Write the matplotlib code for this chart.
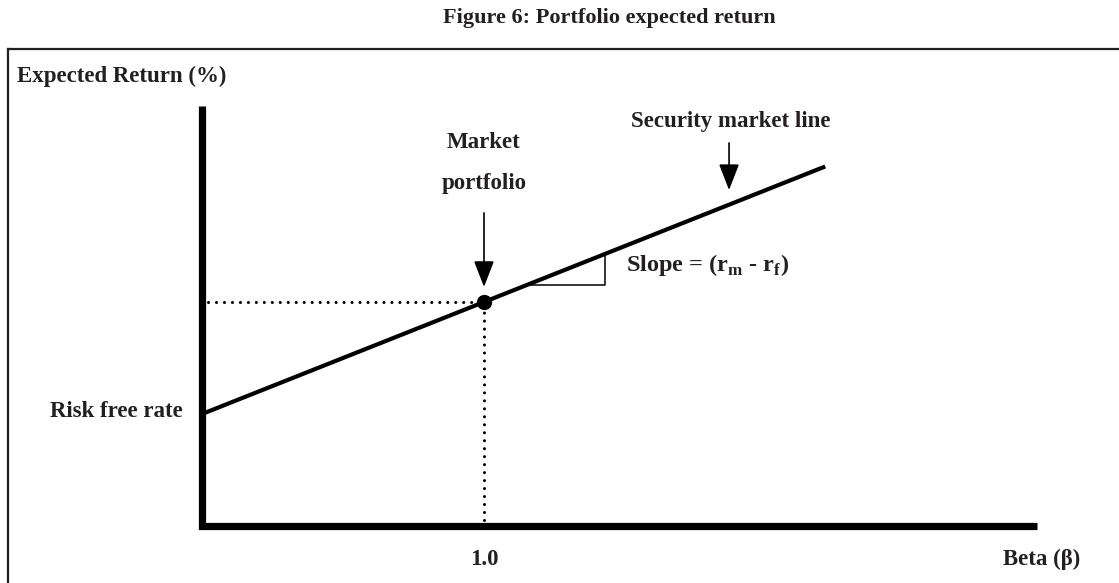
import matplotlib
matplotlib.use("Agg")
import matplotlib.pyplot as plt
from matplotlib.lines import Line2D

plt.rcParams["font.family"] = ["Liberation Serif", "DejaVu Serif"]
plt.rcParams["font.weight"] = "bold"
plt.rcParams["mathtext.fontset"] = "custom"
plt.rcParams["mathtext.rm"] = "Liberation Serif:bold"
plt.rcParams["mathtext.bf"] = "Liberation Serif:bold"

# conceptual CAPM values (return in %, beta)
rf = 4.0
rm = 8.0
market_beta = 1.0
sml_beta = [0.0, 2.21]
axis_beta_max = 2.96
axis_ret_max = 15.0
slope_beta = [1.15, 1.43]
x_tick_value = 1.0
x_tick_label = "1.0"

TXT = "#231f20"
FS = 16.5

fig = plt.figure(figsize=(11.19, 5.83), dpi=100)
ax = fig.add_axes([0, 0, 1, 1])
ax.set_xlim(-0.7163, 3.2518)
ax.set_ylim(-2.0357, 18.786)
ax.axis("off")

# frame around the figure body (left and top only)
fig.add_artist(Line2D([8 / 1119, 8 / 1119], [0, 1 - 49 / 583], color=TXT, lw=1.6))
fig.add_artist(Line2D([8 / 1119, 1], [1 - 49 / 583, 1 - 49 / 583], color=TXT, lw=1.6))
fig.text(609 / 1119, 1 - 18 / 583, "Figure 6: Portfolio expected return",
         ha="center", va="center", fontsize=16, color=TXT, fontweight="bold")

# axes
ax.plot([0, 0, axis_beta_max], [axis_ret_max, 0, 0], color="black", lw=5.2,
        solid_joinstyle="miter", solid_capstyle="butt")

# security market line
sml_ret = [rf + (rm - rf) * b for b in sml_beta]
ax.plot(sml_beta, sml_ret, color="black", lw=3, solid_capstyle="butt")

# market portfolio guides
dots = dict(color="black", lw=2.2, ls=(0, (0.01, 2.6)), dash_capstyle="round")
ax.plot([0.02, market_beta], [rm, rm], **dots)
ax.plot([market_beta, market_beta], [0.2, rm], **dots)
ax.plot([market_beta], [rm], "o", color="black", ms=10)

# slope triangle
y_base = rf + (rm - rf) * slope_beta[0]
y_top = rf + (rm - rf) * slope_beta[1]
ax.plot([slope_beta[0], slope_beta[1], slope_beta[1]], [y_base, y_base, y_top], color="black", lw=1.1)

arrow = dict(arrowstyle="-|>,head_length=0.9,head_width=0.35", color="black", lw=1.2,
             mutation_scale=18, shrinkA=0, shrinkB=0)
ax.annotate("", xy=(market_beta, 8.54), xytext=(market_beta, 11.18), arrowprops=arrow)
ax.annotate("", xy=(1.869, 12.0), xytext=(1.869, 13.68), arrowprops=arrow)

kw = dict(fontsize=FS, color=TXT, fontweight="bold")
ax.text(-0.656, 16.04, "Expected Return (%)", ha="left", va="center", **kw)
ax.text(market_beta, 13.68, "Market", ha="center", va="center", **kw)
ax.text(market_beta, 12.25, "portfolio", ha="center", va="center", **kw)
ax.text(1.876, 14.43, "Security market line", ha="center", va="center", **kw)
ax.text(1.504, 9.32, r"Slope = (r$_{\mathbf{m}}$ - r$_{\mathbf{f}}$)", ha="left", va="center",
        fontsize=17.5, color=TXT, fontweight="bold")
ax.text(-0.0674, 4.1, "Risk free rate", ha="right", va="center", **kw)
ax.text(x_tick_value, -1.21, x_tick_label, ha="center", va="center", **kw)
ax.text(2.84, -1.21, "Beta (β)", ha="left", va="center", **kw)

fig.savefig("out.png", dpi=100)
